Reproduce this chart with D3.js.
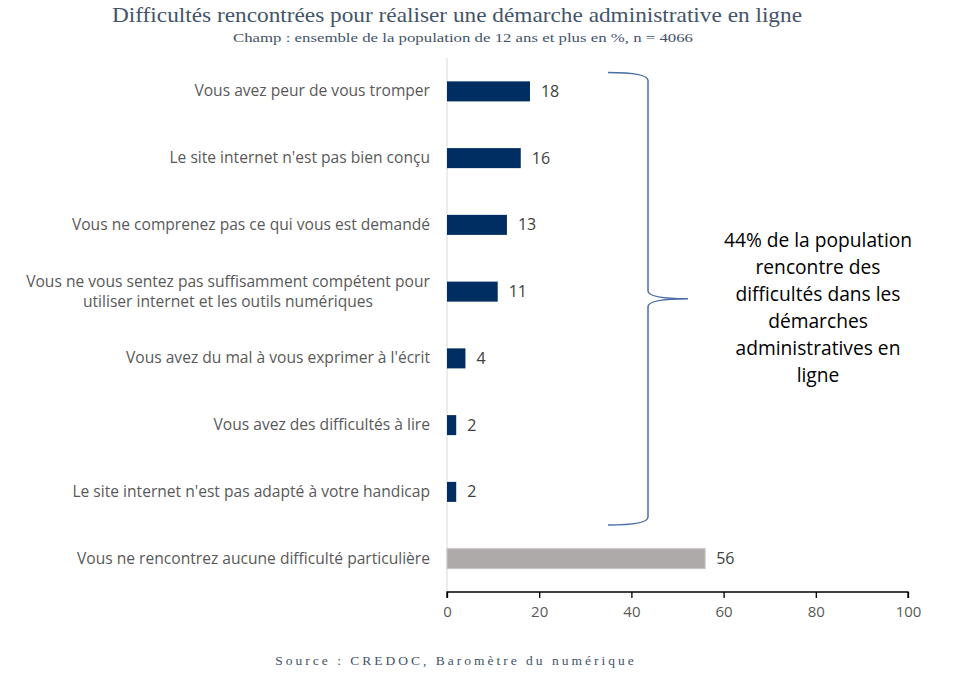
<!DOCTYPE html>
<html><head><meta charset="utf-8">
<script src="https://cdn.jsdelivr.net/npm/d3@7"></script>
<style>body{margin:0;background:#fff}svg{display:block}</style>
</head><body>
<script>
const categories = [
  ["Vous avez peur de vous tromper"],
  ["Le site internet n'est pas bien conçu"],
  ["Vous ne comprenez pas ce qui vous est demandé"],
  ["Vous ne vous sentez pas suffisamment compétent pour", "utiliser internet et les outils numériques"],
  ["Vous avez du mal à vous exprimer à l'écrit"],
  ["Vous avez des difficultés à lire"],
  ["Le site internet n'est pas adapté à votre handicap"],
  ["Vous ne rencontrez aucune difficulté particulière"]
];
const values = [18, 16, 13, 11, 4, 2, 2, 56];
const groups = ["d", "d", "d", "d", "d", "d", "d", "n"];
const xTicks = [0, 20, 40, 60, 80, 100];
const title = "Difficultés rencontrées pour réaliser une démarche administrative en ligne";
const subtitle = "Champ : ensemble de la population de 12 ans et plus en %, n = 4066";
const source = "Source :  CREDOC, Baromètre du numérique";
const annotation = ["44% de la population", "rencontre des", "difficultés dans les", "démarches", "administratives en", "ligne"];

const W = 953, H = 675;
const svg = d3.select("body").append("svg").attr("width", W).attr("height", H);

const x = d3.scaleLinear().domain([0, 100]).range([447, 908]);
const y = d3.scaleBand().domain(d3.range(categories.length)).range([58, 592]).paddingInner(0.7).paddingOuter(0.35);
const color = d3.scaleOrdinal().domain(["d", "n"]).range(["#002d62", "#aeaaaa"]);

// title
svg.append("text").attr("x", 457).attr("y", 22).attr("text-anchor", "middle")
  .attr("font-family", "Liberation Serif").attr("font-size", 21).attr("fill", "#44546a")
  .attr("textLength", 690).attr("lengthAdjust", "spacingAndGlyphs").text(title);
svg.append("text").attr("x", 463).attr("y", 42).attr("text-anchor", "middle")
  .attr("font-family", "Liberation Serif").attr("font-size", 13.5).attr("fill", "#44546a")
  .attr("textLength", 460).attr("lengthAdjust", "spacingAndGlyphs").text(subtitle);

// vertical axis line
svg.append("line").attr("x1", x(0)).attr("x2", x(0)).attr("y1", 58).attr("y2", 592)
  .attr("stroke", "#d9d9d9").attr("stroke-width", 1);

// bars
svg.append("g").selectAll("rect").data(values).join("rect")
  .attr("x", x(0)).attr("y", (d, i) => y(i)).attr("width", d => x(d) - x(0))
  .attr("height", y.bandwidth())
  .attr("fill", (d, i) => color(groups[i]))
  .attr("stroke", (d, i) => groups[i] === "n" ? "#c9c6c6" : "none");

// value labels
svg.append("g").selectAll("text").data(values).join("text")
  .attr("x", d => x(d) + 11).attr("y", (d, i) => y(i) + y.bandwidth() / 2 + 5.5)
  .attr("font-family", "Open Sans").attr("font-size", 16).attr("fill", "#404040")
  .text(d => d);

// category labels
const lab = svg.append("g");
categories.forEach((lines, i) => {
  const cy = y(i) + y.bandwidth() / 2;
  const n = lines.length;
  lines.forEach((l, k) => {
    lab.append("text").attr("x", n > 1 ? 228 : 430).attr("text-anchor", n > 1 ? "middle" : "end")
      .attr("y", cy + 5 + (k - (n - 1) / 2) * 20)
      .attr("font-family", "Open Sans").attr("font-size", 15.6).attr("fill", "#595959")
      .text(l);
  });
});

// x axis
const ax = svg.append("g").attr("transform", "translate(0,592)")
  .call(d3.axisBottom(x).tickValues(xTicks).tickSize(6).tickPadding(8));
ax.select(".domain").attr("stroke", "#000").attr("stroke-width", 1.3).attr("d", `M${x(0)},6V0H${x(100)}V6`);
ax.selectAll(".tick line").attr("stroke", "#000").attr("stroke-width", 1.3);
ax.selectAll(".tick text").attr("font-family", "Open Sans").attr("font-size", 15).attr("fill", "#595959");

// brace
const bTop = y(0) + y.bandwidth() / 2 - 19;
const bBot = y(6) + y.bandwidth() / 2 + 33;
const bMid = (bTop + bBot) / 2;
const bx = 648, lx = 608, tip = 688;
const p = d3.path();
p.moveTo(lx, bTop);
p.quadraticCurveTo(bx, bTop, bx, bTop + 8);
p.lineTo(bx, bMid - 8);
p.quadraticCurveTo(bx, bMid, tip, bMid);
p.quadraticCurveTo(bx, bMid, bx, bMid + 8);
p.lineTo(bx, bBot - 8);
p.quadraticCurveTo(bx, bBot, lx, bBot);
svg.append("path").attr("d", p.toString()).attr("fill", "none")
  .attr("stroke", "#4a6ea5").attr("stroke-width", 1.5);

// annotation
svg.append("g").selectAll("text").data(annotation).join("text")
  .attr("x", 818).attr("y", (d, i) => 247 + i * 27).attr("text-anchor", "middle")
  .attr("font-family", "Open Sans").attr("font-size", 19.2).attr("fill", "#000")
  .text(d => d);

// source
svg.append("text").attr("x", 456).attr("y", 665).attr("text-anchor", "middle")
  .attr("font-family", "Liberation Serif").attr("font-size", 13.5).attr("fill", "#44546a")
  .attr("letter-spacing", 3).text(source);
</script>
</body></html>
